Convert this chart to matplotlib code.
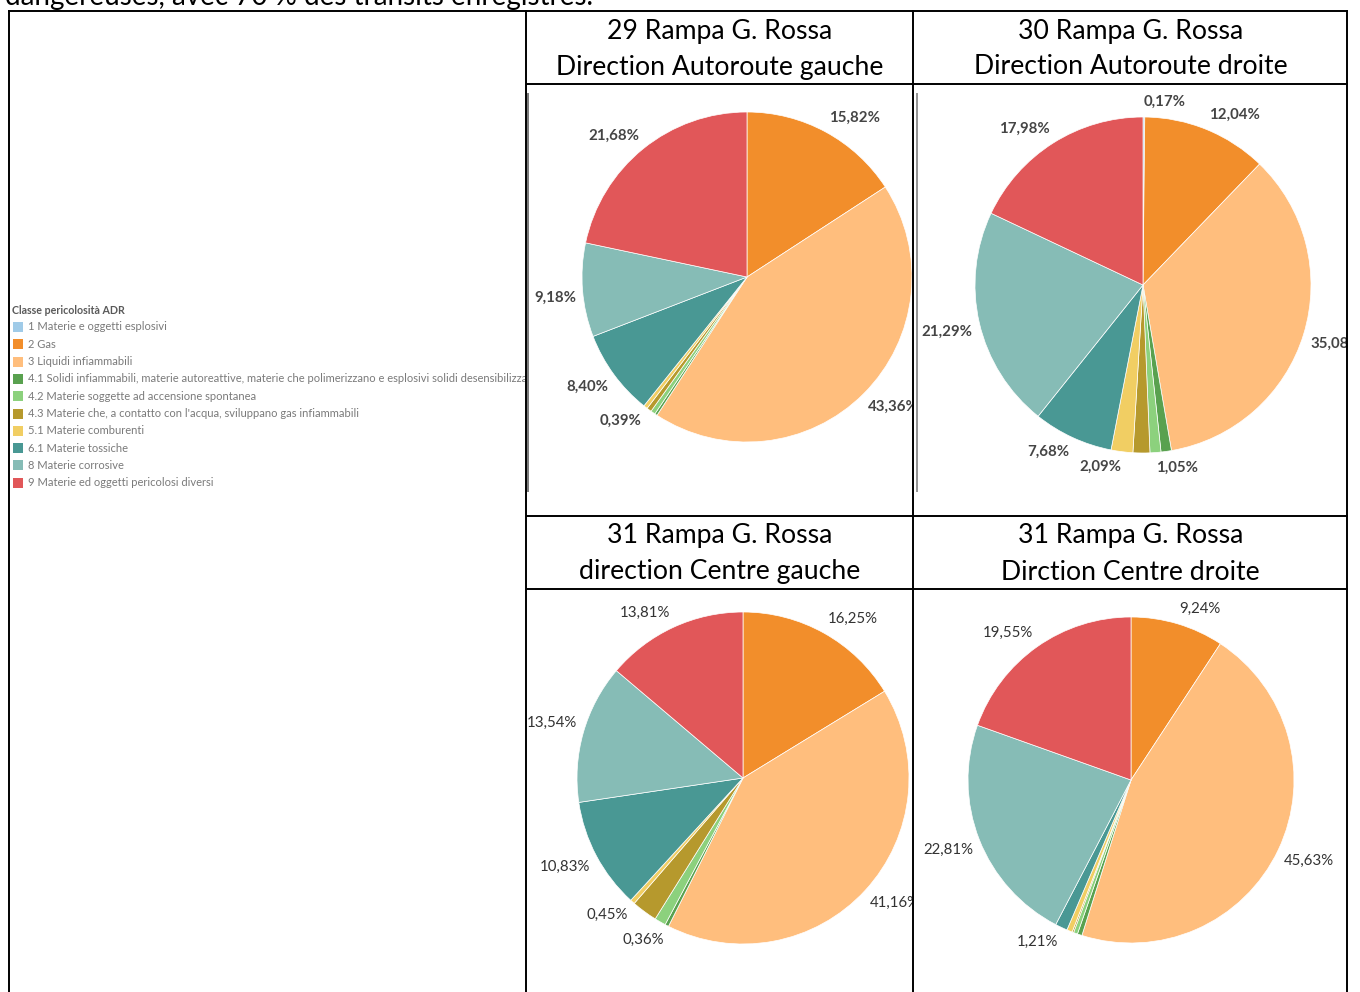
import matplotlib
matplotlib.use('Agg')
import numpy as np
import matplotlib.pyplot as plt
from matplotlib.lines import Line2D
from matplotlib.patches import Rectangle

plt.rcParams['font.family'] = ['Lato', 'DejaVu Sans']

# ADR hazard classes (legend order = slice order, clockwise from 12 o'clock)
classes = [
    '1 Materie e oggetti esplosivi',
    '2 Gas',
    '3 Liquidi infiammabili',
    '4.1 Solidi infiammabili, materie autoreattive, materie che polimerizzano e esplosivi solidi desensibilizzati',
    '4.2 Materie soggette ad accensione spontanea',
    "4.3 Materie che, a contatto con l'acqua, sviluppano gas infiammabili",
    '5.1 Materie comburenti',
    '6.1 Materie tossiche',
    '8 Materie corrosive',
    '9 Materie ed oggetti pericolosi diversi',
]
colors = ['#A0CBE8', '#F28E2B', '#FFBE7D', '#59A14F', '#8CD17D',
          '#B6992D', '#F1CE63', '#499894', '#86BCB6', '#E15759']

# share of transits per class (%)
share_29 = [0, 15.82, 43.36, 0.25, 0.45, 0.47, 0.39, 8.40, 9.18, 21.68]
share_30 = [0.17, 12.04, 35.08, 1.00, 1.05, 1.62, 2.09, 7.68, 21.29, 17.98]
share_31g = [0, 16.25, 41.16, 0.36, 1.10, 2.50, 0.45, 10.83, 13.54, 13.81]
share_31d = [0, 9.24, 45.63, 0.46, 0.40, 0.15, 0.55, 1.21, 22.81, 19.55]

# which slices carry a percentage label
labelled_29 = [1, 2, 6, 7, 8, 9]
labelled_30 = [0, 1, 2, 4, 6, 7, 8, 9]
labelled_31g = [1, 2, 3, 6, 7, 8, 9]
labelled_31d = [1, 2, 7, 8, 9]

titles = [
    ('29 Rampa G. Rossa', 'Direction Autoroute gauche'),
    ('30 Rampa G. Rossa', 'Direction Autoroute droite'),
    ('31 Rampa G. Rossa', 'direction Centre gauche'),
    ('31 Rampa G. Rossa', 'Dirction Centre droite'),
]

W, H = 1360, 992
fig = plt.figure(figsize=(W / 100, H / 100), dpi=100)


def fx(x):
    return x / W


def fy(y):
    return 1 - y / H


def line(x0, y0, x1, y1, lw=1.4, color='black'):
    fig.add_artist(Line2D([fx(x0), fx(x1)], [fy(y0), fy(y1)], lw=lw,
                          color=color, solid_capstyle='butt'))


# end of the paragraph above the table, cut by the page edge
fig.text(fx(5), fy(5), 'dangereuses, avec 70 % des transits enregistrés.',
         fontsize=20, va='baseline', ha='left', color='black')

# table grid
line(8, 11, 1348, 11)
line(526, 84, 1348, 84)
line(526, 516, 1348, 516)
line(526, 589, 1348, 589)
for x in (9, 526, 913, 1347):
    line(x, 10, x, 992)
# borders of the pasted chart images
line(528, 93, 528, 492, lw=1.1, color='#555555')
line(917, 93, 917, 492, lw=1.1, color='#777777')

# headers
header_cx = [719.5, 1130.5, 719.5, 1130.5]
header_y = [31, 31, 536, 536]
for (t1, t2), cx, y in zip(titles, header_cx, header_y):
    fig.text(fx(cx), fy(y), t1, fontsize=19.2, ha='center', va='center')
    fig.text(fx(cx), fy(y + 36), t2, fontsize=19.2, ha='center', va='center')

# legend (left cell), in pixel coordinates
lax = fig.add_axes([fx(10), fy(500), fx(526) - fx(10), fy(300) - fy(500)])
lax.set_xlim(10, 526)
lax.set_ylim(500, 300)
lax.axis('off')
lax.text(12, 311, 'Classe pericolosità ADR', fontsize=7.7, fontweight='bold',
         color='#5a5a5a', va='center', ha='left')
for i, (name, c) in enumerate(zip(classes, colors)):
    y = 327 + 17.3 * i
    lax.add_patch(Rectangle((13, y - 5), 10, 10, color=c, lw=0))
    lax.text(28, y, name, fontsize=8.0, color='#7a7a7a', va='center',
             ha='left', clip_on=True)

pies = [
    (share_29, labelled_29, (527, 86, 913, 515), (747, 277, 165), 'bold', '#454545'),
    (share_30, labelled_30, (918, 86, 1347, 515), (1143, 285, 168), 'bold', '#454545'),
    (share_31g, labelled_31g, (527, 590, 913, 992), (743, 778, 166), 'normal', '#333333'),
    (share_31d, labelled_31d, (914, 590, 1347, 992), (1131, 780, 163), 'normal', '#333333'),
]

for values, labelled, (x0, y0, x1, y1), (cx, cy, r), weight, tcol in pies:
    ax = fig.add_axes([fx(x0), fy(y1), fx(x1) - fx(x0), fy(y0) - fy(y1)])
    ax.pie(values, colors=colors, startangle=90, counterclock=False,
           radius=1, wedgeprops=dict(edgecolor='white', linewidth=0.5))
    ax.set_aspect('auto')
    ax.set_xlim((x0 - cx) / r, (x1 - cx) / r)
    ax.set_ylim((cy - y1) / r, (cy - y0) / r)
    ax.axis('off')

    # labels sit just outside the slice middle, pushed away from the pie
    vals = np.array(values, dtype=float)
    mids = 360 * (np.cumsum(vals) - vals / 2) / vals.sum()
    for i in labelled:
        th = np.radians(mids[i])
        sx, cy_ = np.sin(th), np.cos(th)
        txt = f'{values[i]:.2f}'.replace('.', ',') + '%'
        ax.text(1.04 * sx, 1.05 * cy_, txt, fontsize=10.8,
                fontweight=weight, color=tcol,
                ha='left' if sx >= 0 else 'right',
                va='bottom' if cy_ >= 0 else 'top',
                clip_on=True)

fig.savefig('out.png', dpi=100)
